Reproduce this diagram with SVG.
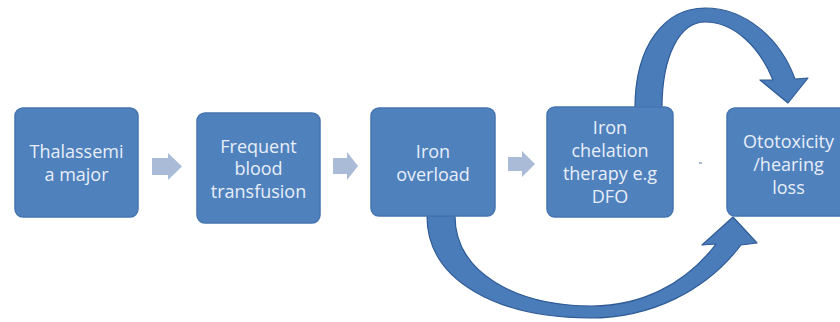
<svg xmlns="http://www.w3.org/2000/svg" width="840" height="322" viewBox="0 0 840 322">
<defs>
<style>
.box{fill:#4f81bd;stroke:#4575b0;stroke-width:1.5}
.t{font-family:"Open Sans","Liberation Sans",sans-serif;font-size:18px;fill:#e8eef8;text-anchor:middle}
.sa{fill:#a9bbd6}
.ca{fill:#4a7cba;stroke:#2f5b96;stroke-width:1.2;stroke-linejoin:round}
</style>
</defs>
<rect width="840" height="322" fill="#ffffff"/>
<g id="connectors">
<polygon class="sa" points="152,158 168,158 168,153 182,166.5 168,180 168,175 152,175"/>
<polygon class="sa" points="333,158 347,158 347,152 358,166 347,180 347,174 333,174"/>
<polygon class="sa" points="508,157 522,157 522,151 535,164 522,177 522,171 508,171"/>
<rect class="sa" x="699" y="162" width="3" height="2"/>
<path class="ca" d="M635,108 C635,45 665,8 705,8 C745,8 780,38 795,79 L808,78 L788,103 L760,80 L773,80 C760,48 735,22 705,22 C680,22 662,55 662,108 Z"/>
<path class="ca" d="M427,216 C427,282 500,318 590,318 C650,318 705,292 741,245 L757,243 L733,217 L702,245 L716,244 C685,285 640,306 592,306 C515,306 455,272 455,216 Z"/>
</g>
<g id="n1"><rect class="box" x="15" y="108" width="123" height="109" rx="8"/>
<text class="t" x="76.5" y="158">Thalassemi</text><text class="t" x="76.5" y="181">a major</text></g>
<g id="n2"><rect class="box" x="197" y="113" width="123" height="110" rx="8"/>
<text class="t" x="258.5" y="153">Frequent</text><text class="t" x="258.5" y="175">blood</text><text class="t" x="258.5" y="198">transfusion</text></g>
<g id="n3"><rect class="box" x="371" y="108" width="124" height="108" rx="8"/>
<text class="t" x="433" y="158">Iron</text><text class="t" x="433" y="181">overload</text></g>
<g id="n4"><rect class="box" x="547" y="107" width="126" height="110" rx="8"/>
<text class="t" x="610" y="134">Iron</text><text class="t" x="610" y="157">chelation</text><text class="t" x="610" y="180">therapy e.g</text><text class="t" x="610" y="203">DFO</text></g>
<g id="n5"><rect class="box" x="727" y="108" width="123" height="108" rx="8"/>
<text class="t" x="788.5" y="148">Ototoxicity</text><text class="t" x="788.5" y="171">/hearing</text><text class="t" x="788.5" y="194">loss</text></g>
</svg>
